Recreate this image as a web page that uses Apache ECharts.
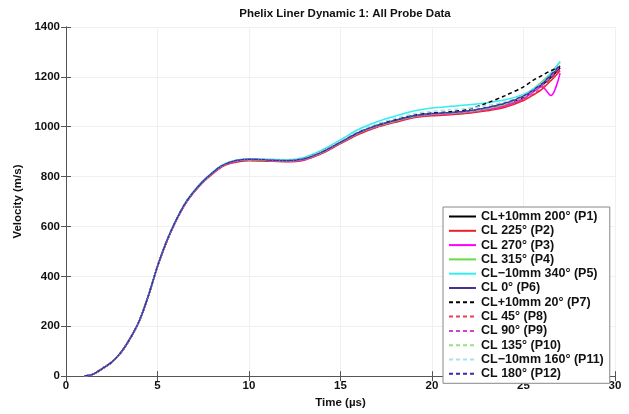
<!DOCTYPE html>
<html><head><meta charset="utf-8">
<script src="https://cdn.jsdelivr.net/npm/echarts@6/dist/echarts.min.js"></script>
<style>html,body{margin:0;padding:0;background:#fff}#c{width:629px;height:414px}</style>
</head><body><div id="c"></div>
<script>
const times = [1,1.5,2,2.5,3,3.5,4,4.5,5,5.5,6,6.5,7,7.5,8,8.5,9,9.5,10,11,12,13,14,15,16,17,18,19,20,21,22,23,24,25,25.5,26,26.5,27];
const seriesNames = ["CL+10mm 200° (P1)","CL 225° (P2)","CL 270° (P3)","CL 315° (P4)","CL−10mm 340° (P5)","CL 0° (P6)","CL+10mm 20° (P7)","CL 45° (P8)","CL 90° (P9)","CL 135° (P10)","CL−10mm 160° (P11)","CL 180° (P12)"];
const p1  = [0,8,31,56,94,150,220,322,440,540,622,690,740,781,814,842,858,866,869,866,862,870,898,937,976,1004,1024,1041,1050,1055,1062,1074,1090,1118,1140,1166,1198,1236];
const p2  = [0,8,30,55,93,149,219,320,438,538,620,688,738,778,810,838,853,861,864,862,860,866,893,932,970,998,1018,1036,1044,1048,1054,1064,1078,1105,1126,1150,1185,1225];
const p3  = [0,8,31,56,94,150,220,321,440,540,621,689,739,780,813,841,857,865,868,865,862,868,896,935,974,1001,1022,1039,1048,1052,1058,1068,1084,1112,1138,1160,1125,1215];
const p4  = [0,8,31,56,94,150,220,321,440,541,622,690,740,781,814,842,858,866,868,866,863,870,897,936,975,1002,1022,1040,1050,1054,1060,1072,1090,1125,1150,1180,1215,1260];
const p5  = [0,8,31,57,95,151,221,323,442,543,625,693,743,784,817,845,861,869,872,870,868,877,907,948,990,1020,1043,1063,1075,1082,1088,1096,1108,1130,1150,1175,1215,1262];
const p6  = [0,8,31,56,95,151,221,322,441,541,623,691,741,782,815,843,859,867,870,867,864,871,899,938,977,1005,1026,1044,1053,1057,1063,1076,1094,1122,1143,1170,1205,1245];
const p7  = [0,8,31,56,94,150,220,322,441,541,622,690,741,782,815,843,859,867,869,867,865,873,902,941,980,1008,1028,1046,1055,1060,1070,1095,1125,1160,1185,1205,1225,1240];
const p8  = [0,8,30,55,94,150,220,321,439,539,621,689,739,779,812,840,855,863,866,864,861,867,894,933,972,1000,1020,1038,1046,1050,1057,1067,1082,1108,1130,1155,1190,1230];
const p9  = [0,8,31,56,94,150,220,321,440,540,621,689,740,780,813,841,857,865,868,866,863,869,897,936,975,1003,1023,1040,1049,1053,1060,1071,1088,1116,1140,1165,1200,1242];
const p10 = [0,8,31,56,94,150,220,321,440,540,622,690,740,781,814,842,858,866,868,866,863,870,898,937,976,1004,1024,1042,1051,1056,1062,1074,1092,1120,1145,1172,1208,1250];
const p11 = [0,8,31,56,95,151,221,322,441,542,623,691,742,783,816,844,860,868,871,869,866,874,903,943,983,1012,1034,1052,1062,1068,1074,1085,1100,1126,1148,1174,1210,1255];
const p12 = [0,8,31,56,95,151,221,322,441,541,623,691,741,782,815,843,859,867,870,867,864,871,899,938,977,1005,1025,1043,1052,1057,1064,1077,1095,1124,1146,1172,1208,1248];
const xTicks = [0,5,10,15,20,25,30];
const yTicks = [0,200,400,600,800,1000,1200,1400];

const values = [p1,p2,p3,p4,p5,p6,p7,p8,p9,p10,p11,p12];
const colors = ['#000000','#e8202c','#ff00ff','#66dd44','#33eeee','#4b2d9c','#000000','#e84055','#d040d0','#99dd88','#a8e0f0','#3a2ab0'];
const dashed = [false,false,false,false,false,false,true,true,true,true,true,true];
const FONT = '"Liberation Sans", Arial, sans-serif';

const series = values.map((v, i) => ({
  name: seriesNames[i], type: 'line', xAxisIndex: 0, yAxisIndex: 0,
  data: times.map((t, k) => [t, v[k]]),
  symbol: 'none', smooth: 0.3,
  lineStyle: { color: colors[i], width: 1.5, type: dashed[i] ? [4, 3] : 'solid' },
  itemStyle: { color: colors[i] },
  emphasis: { disabled: true }, animation: false
}));

const chart = echarts.init(document.getElementById('c'), null, { renderer: 'canvas' });
const axisLine = { show: true, lineStyle: { color: '#555', width: 1 } };
const plain = v => String(v);
chart.setOption({
  backgroundColor: '#fff',
  animation: false,
  title: { text: 'Phelix Liner Dynamic 1: All Probe Data', left: 340, top: 3, textAlign: 'center',
    textStyle: { fontFamily: FONT, fontSize: 11.5, fontWeight: 'bold', color: '#111' } },
  grid: { left: 66, right: 14, top: 27, bottom: 27, containLabel: false },
  legend: {
    data: seriesNames, orient: 'vertical', left: 443, top: 207,
    backgroundColor: '#fff', borderColor: '#888', borderWidth: 1,
    padding: [3, 6, 3, 5], itemWidth: 27, itemHeight: 12, itemGap: 1.3,
    itemStyle: { color: 'rgba(0,0,0,0)', borderColor: 'rgba(0,0,0,0)', borderWidth: 0 },
    textStyle: { fontFamily: FONT, fontSize: 12.5, fontWeight: 'bold', color: '#111', lineHeight: 12 },
    selectedMode: false
  },
  xAxis: [
    { type: 'value', min: xTicks[0], max: xTicks[xTicks.length-1], interval: 5, position: 'bottom',
      name: 'Time (µs)', nameLocation: 'middle', nameGap: 13,
      nameTextStyle: { fontFamily: FONT, fontSize: 11.5, fontWeight: 'bold', color: '#111' },
      axisLine, axisTick: { inside: true, length: 5, lineStyle: { color: '#555' } },
      axisLabel: { fontFamily: FONT, fontSize: 11.5, fontWeight: 'bold', color: '#111', margin: 4, formatter: plain },
      splitLine: { show: true, lineStyle: { color: '#f0f0f0', width: 1 } } },
    { type: 'value', min: xTicks[0], max: xTicks[xTicks.length-1], interval: 5, position: 'top',
      axisLine, axisTick: { inside: true, length: 5, lineStyle: { color: '#555' } },
      axisLabel: { show: false }, splitLine: { show: false } }
  ],
  yAxis: [
    { type: 'value', min: yTicks[0], max: yTicks[yTicks.length-1], interval: 200, position: 'left',
      name: 'Velocity (m/s)', nameLocation: 'middle', nameGap: 27, nameRotate: 90,
      nameTextStyle: { fontFamily: FONT, fontSize: 11.5, fontWeight: 'bold', color: '#111' },
      axisLine, axisTick: { inside: true, length: 5, lineStyle: { color: '#555' } },
      axisLabel: { fontFamily: FONT, fontSize: 11.5, fontWeight: 'bold', color: '#111', margin: 6, formatter: plain },
      splitLine: { show: true, lineStyle: { color: '#f0f0f0', width: 1 } } },
    { type: 'value', min: yTicks[0], max: yTicks[yTicks.length-1], interval: 200, position: 'right',
      axisLine, axisTick: { inside: true, length: 5, lineStyle: { color: '#555' } },
      axisLabel: { show: false }, splitLine: { show: false } }
  ],
  series
});
</script></body></html>
